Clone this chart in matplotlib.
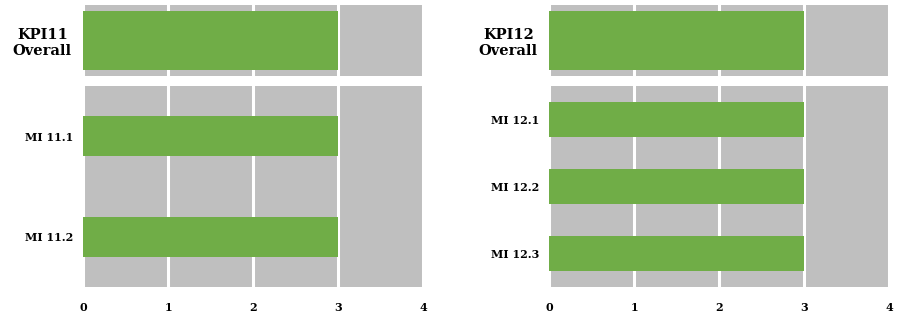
import matplotlib
matplotlib.use('Agg')
import matplotlib.pyplot as plt

kpi_labels = ['KPI11\nOverall', 'KPI12\nOverall']
kpi_values = [3, 3]
mi11_labels = ['MI 11.1', 'MI 11.2']
mi11_values = [3, 3]
mi12_labels = ['MI 12.1', 'MI 12.2', 'MI 12.3']
mi12_values = [3, 3, 3]
x_ticks = [0, 1, 2, 3, 4]

green = '#70AD47'
gray = '#BFBFBF'
plt.rcParams['font.family'] = ['DejaVu Serif']
plt.rcParams['font.weight'] = 'bold'

fig = plt.figure(figsize=(9.07, 3.14), dpi=100)


def style(ax, show_x):
    ax.set_facecolor(gray)
    ax.set_xlim(0, 4)
    ax.set_xticks(x_ticks)
    ax.grid(axis='x', color='white', linewidth=2.2)
    ax.set_axisbelow(True)
    for s in ax.spines.values():
        s.set_visible(False)
    ax.tick_params(length=0, pad=7)
    if show_x:
        ax.set_xticklabels([str(t) for t in x_ticks], fontsize=8, fontweight='bold')
        ax.tick_params(axis='x', pad=11)
    else:
        ax.set_xticklabels([])


panels = [
    (83 / 907, kpi_labels[0], kpi_values[0], mi11_labels, mi11_values, 0.4),
    (549 / 907, kpi_labels[1], kpi_values[1], mi12_labels, mi12_values, 0.52),
]

for left, klab, kval, labs, vals, h in panels:
    w = 340 / 907
    ax_top = fig.add_axes([left, 0.758, w, 0.226])
    ax_top.barh([0], [kval], height=0.845, color=green, zorder=3)
    ax_top.set_ylim(-0.5, 0.5)
    style(ax_top, False)
    ax_top.set_yticks([0])
    ax_top.set_yticklabels([klab], fontsize=10.5, fontweight='bold', multialignment='center')
    ax_top.tick_params(axis='y', pad=8)

    ax = fig.add_axes([left, 0.086, w, 0.640])
    ax.barh(range(len(vals)), vals, height=h, color=green, zorder=3)
    ax.set_ylim(-0.5, len(vals) - 0.5)
    ax.invert_yaxis()
    style(ax, True)
    ax.set_yticks(range(len(vals)))
    ax.set_yticklabels(labs, fontsize=8, fontweight='bold')

fig.savefig('out.png', dpi=100)
